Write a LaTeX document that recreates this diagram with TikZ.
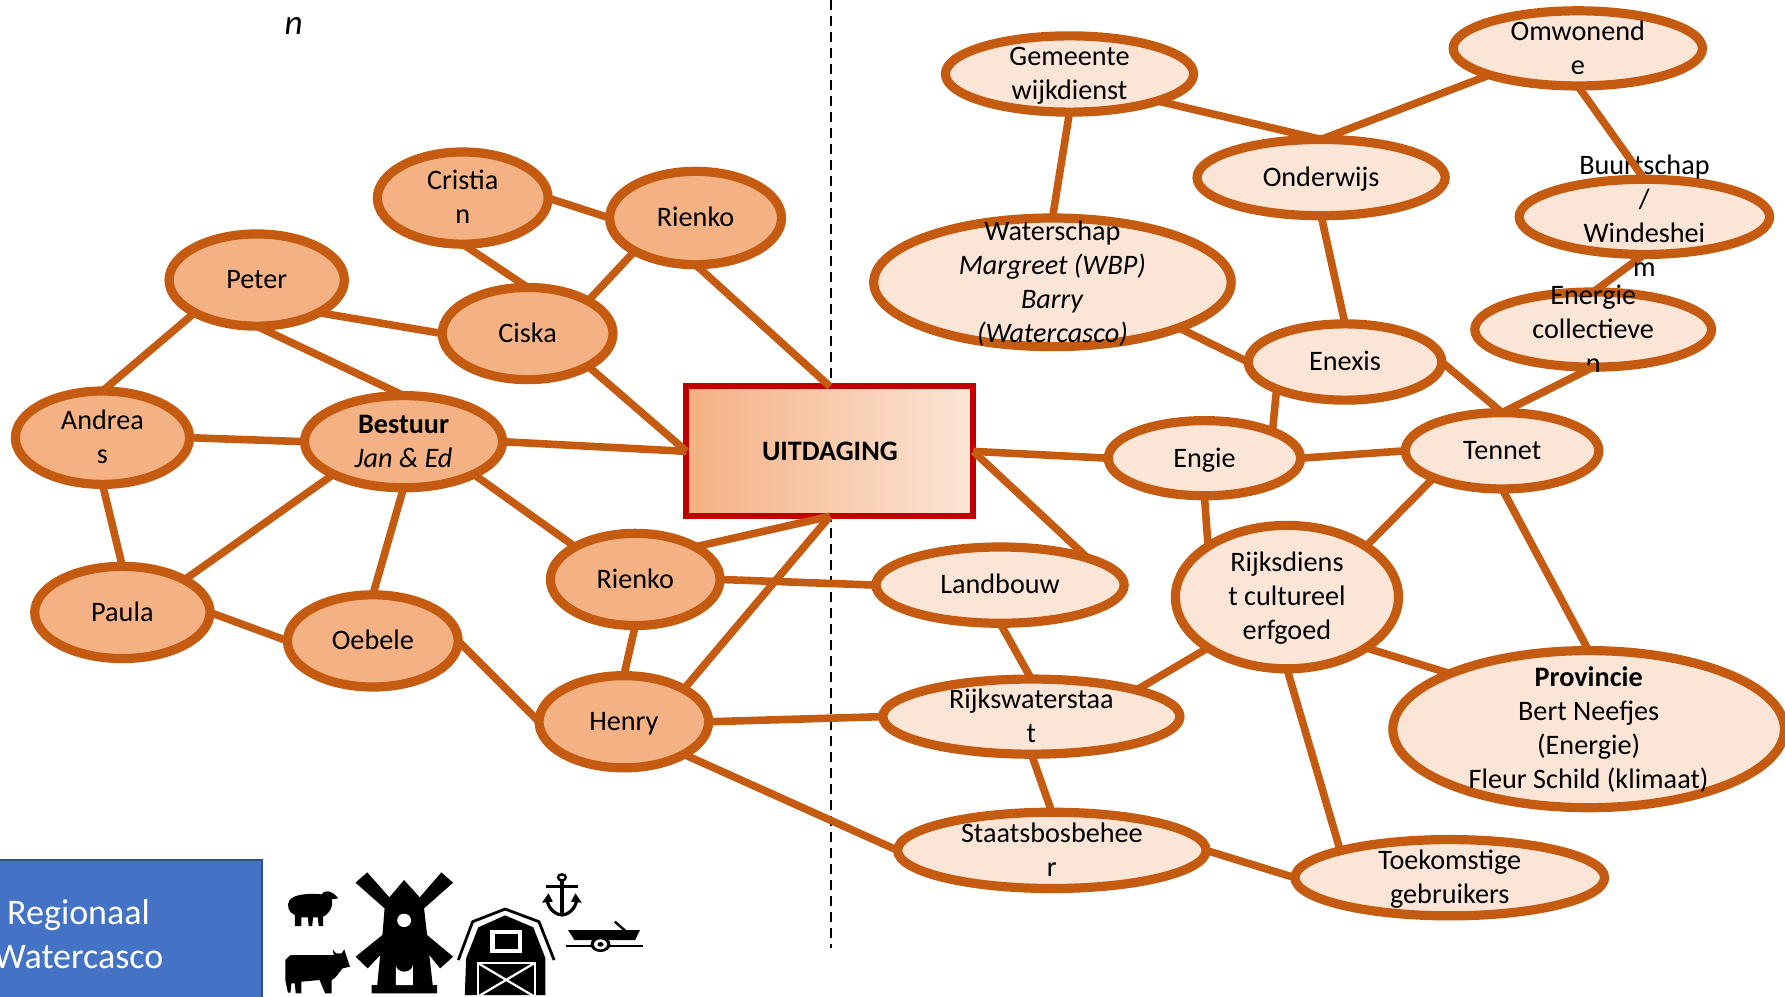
\documentclass[tikz,border=0pt]{standalone}
\usepackage{fontspec}
\setmainfont{Carlito}
\usetikzlibrary{shapes.geometric,backgrounds}
\definecolor{edgeC}{HTML}{C55A11}
\definecolor{darkF}{HTML}{F4B183}
\definecolor{lightF}{HTML}{FBE5D6}
\definecolor{boxC}{HTML}{C00000}
\definecolor{blueF}{HTML}{4472C4}
\definecolor{blueD}{HTML}{2F528F}
\newcommand{\ovtext}[1]{\makebox[0pt]{\raisebox{-9.2pt}{\smash{\begin{tabular}{@{}c@{}}#1\end{tabular}}}}}
\newcommand{\ov}[7]{\node[oval,fill=#1,minimum width=0.5692pt*(2*#5-5),minimum height=0.5692pt*(2*#6-5)] (#2) at (#3,#4) {\ovtext{#7}};}
\tikzset{
 oval/.style={ellipse,draw=edgeC,line width=4.6pt,inner sep=0pt,outer sep=0pt,font=\fontsize{14.1}{17}\selectfont},
 link/.style={draw=edgeC,line width=3.8pt},
 ink/.style={fill=black,draw=none},
}
\begin{document}
\begin{tikzpicture}[x=0.5692pt,y=-0.5692pt]
\useasboundingbox (0,0) rectangle (1568,875.8);
\clip (0,0) rectangle (1568,875.8);
\coordinate (dashtop) at (730,0);
\coordinate (dashend) at (730,833);
\draw[black,line width=0.6pt,dash pattern=on 5pt off 3pt] (dashtop) -- (dashend);
\node[font=\fontsize{17.6}{21}\selectfont\itshape] (nlabel) at (258,23) {n};
% task box
\node[draw=boxC,line width=3pt,left color=darkF,right color=lightF,minimum width=0.5692pt*252,minimum height=0.5692pt*114,inner sep=0pt,outer sep=0pt,font=\fontsize{14.1}{17}\selectfont\bfseries] (task) at (729,396.5) {UITDAGING};
% left ovals
\ov{darkF}{cristian}{406.5}{174}{77.5}{43}{Cristia\\n}
\ov{darkF}{rienkoA}{611}{191.5}{78}{43.5}{Rienko}
\ov{darkF}{peter}{225.5}{246}{79.5}{43}{Peter}
\ov{darkF}{ciska}{463.5}{293}{77.5}{43}{Ciska}
\ov{darkF}{andreas}{90}{384.5}{79}{43.5}{Andrea\\s}
\ov{darkF}{bestuur}{354.5}{388}{89.5}{43}{\textbf{Bestuur}\\\textit{Jan \& Ed}}
\ov{darkF}{paula}{107.5}{538}{79.5}{43}{Paula}
\ov{darkF}{oebele}{327.5}{563}{77.5}{43}{Oebele}
\ov{darkF}{rienkoB}{558}{509}{77}{43}{Rienko}
\ov{darkF}{henry}{548}{634}{77}{43}{Henry}
% right ovals
\ov{lightF}{landbouw}{878.5}{514}{111.5}{36}{Landbouw}
\ov{lightF}{rws}{906}{629.5}{133}{35.5}{Rijkswaterstaa\\t}
\ov{lightF}{sbb}{924}{747}{138}{36}{Staatsbosbehee\\r}
\ov{lightF}{toek}{1273.5}{771}{138.5}{36}{Toekomstige\\gebruikers}
\ov{lightF}{rijksd}{1130.5}{524.5}{100.5}{65.5}{Rijksdiens\\t cultureel\\erfgoed}
\ov{lightF}{prov}{1395.5}{640.5}{174.5}{71.5}{\textbf{Provincie}\\Bert Neefjes\\(Energie)\\Fleur Schild (klimaat)}
\ov{lightF}{tennet}{1319.5}{396}{87.5}{36}{Tennet}
\ov{lightF}{engie}{1058}{402.5}{87}{35.5}{Engie}
\ov{lightF}{enexis}{1181.5}{318}{87.5}{36}{Enexis}
\ov{lightF}{energie}{1399.5}{289.5}{106.5}{35.5}{Energie\\collectieve\\n}
\ov{lightF}{buurt}{1444.5}{190.5}{112.5}{35.5}{Buurtschap\\/\\Windeshei\\m}
\ov{lightF}{omw}{1386}{42.5}{112}{35.5}{Omwonend\\e}
\ov{lightF}{onder}{1160.5}{156}{111.5}{36}{Onderwijs}
\ov{lightF}{gem}{939.5}{65}{111.5}{36}{Gemeente\\wijkdienst}
\ov{lightF}{water}{924.5}{248}{159.5}{59}{Waterschap\\\textit{Margreet (WBP)}\\\textit{Barry}\\\textit{(Watercasco)}}
% connectors
\begin{pgfonlayer}{background}
\draw[link] (buurt.south) -- (energie.north);
\draw[link] (gem.south) -- (water.north);
\draw[link] (rws.south) -- (sbb.north);
\draw[link] (landbouw.south) -- (rws.north);
\end{pgfonlayer}
\draw[link] (cristian.east) -- (rienkoA.west);
\draw[link] (cristian.south) -- (ciska.north);
\draw[link] (rienkoA.south west) -- (ciska.north east);
\draw[link] (rienkoA.south) -- (task.north);
\draw[link] (peter.south east) -- (ciska.west);
\draw[link] (peter.south west) -- (andreas.north);
\draw[link] (peter.south) -- (bestuur.north);
\draw[link] (ciska.south east) -- (task.west);
\draw[link] (andreas.east) -- (bestuur.west);
\draw[link] (andreas.south) -- (paula.north);
\draw[link] (bestuur.south west) -- (paula.north east);
\draw[link] (bestuur.south) -- (oebele.north);
\draw[link] (bestuur.east) -- (task.west);
\draw[link] (bestuur.south east) -- (rienkoB.north west);
\draw[link] (paula.east) -- (oebele.west);
\draw[link] (oebele.east) -- (henry.west);
\draw[link] (rienkoB.north east) -- (task.south);
\draw[link] (rienkoB.east) -- (landbouw.west);
\draw[link] (rienkoB.south) -- (henry.north);
\draw[link] (henry.north east) -- (task.south);
\draw[link] (henry.east) -- (rws.west);
\draw[link] (henry.south east) -- (sbb.west);
\draw[link] (task.east) -- (engie.west);
\draw[link] (task.east) -- (landbouw.north east);
\draw[link] (rws.north east) -- (rijksd.south west);
\draw[link] (sbb.east) -- (toek.west);
\draw[link] (rijksd.south) -- (toek.north west);
\draw[link] (rijksd.south east) -- (prov.north west);
\draw[link] (engie.south) -- (rijksd.north west);
\draw[link] (rijksd.north east) -- (tennet.south west);
\draw[link] (tennet.south) -- (prov.north);
\draw[link] (tennet.west) -- (engie.east);
\draw[link] (tennet.north) -- (enexis.east);
\draw[link] (tennet.north) -- (energie.south);
\draw[link] (enexis.south west) -- (engie.north east);
\draw[link] (enexis.west) -- (water.south east);
\draw[link] (enexis.north) -- (onder.south);
\draw[link] (onder.north) -- (gem.south east);
\draw[link] (onder.north) -- (omw.south west);
\draw[link] (omw.south) -- (buurt.north);
% blue box
\fill[blueF] (-5,755) rectangle (231,880);
\draw[blueD,line width=1pt] (-5,755.5) -- (230.5,755.5) -- (230.5,880);
\node[text=white,font=\fontsize{18}{21.6}\selectfont,align=center] (regio) at (69,820.5) {Regionaal\\Watercasco};
% icons, drawn in crop coordinates
\begin{scope}[shift={(0,737.9)},x=0.2168pt,y=-0.16667pt]
% sheep
\fill[ink] (668,180) .. controls (680,160) and (720,160) .. (742,163) .. controls (745,150) and (765,148) .. (780,175) -- (765,178) .. controls (770,205) and (755,225) .. (745,230) -- (745,258) -- (735,258) -- (733,232) -- (722,232) -- (720,258) -- (712,258) -- (710,232) -- (695,232) -- (695,258) -- (680,258) -- (680,225) .. controls (665,218) and (660,195) .. (668,180) -- cycle;
% cow
\fill[ink] (670,345) -- (770,345) -- (767,328) -- (775,340) -- (788,340) -- (794,328) -- (798,345) -- (807,380) -- (790,385) .. controls (780,400) and (775,415) .. (765,420) -- (765,460) -- (750,460) -- (737,420) -- (695,425) -- (695,460) -- (682,460) -- (680,430) -- (672,430) -- (670,458) -- (664,458) -- (658,420) -- (658,360) -- cycle;
% windmill
\fill[ink] (820,128) -- (847,97) -- (898,172) -- (932,120) -- (968,172) -- (1018,97) -- (1045,128) -- (978,205) -- (985,285) -- (1045,350) -- (1015,385) -- (990,345) -- (998,435) -- (1008,435) -- (1008,460) -- (857,460) -- (857,435) -- (870,435) -- (877,345) -- (848,385) -- (820,350) -- (882,285) -- (887,205) -- cycle;
\fill[white] (932,241) ellipse [x radius=16,y radius=20];
\fill[white] (913,435) -- (913,375) arc[start angle=180,end angle=0,x radius=19.5,y radius=20] -- (952,435) -- cycle;
% barn
\draw[black,line width=1.4pt,line join=round] (1057,360) -- (1090,245) -- (1165,207) -- (1243,245) -- (1278,360);
\fill[ink] (1075,355) -- (1103,262) -- (1165,226) -- (1230,262) -- (1258,355) -- (1258,465) -- (1072,465) -- cycle;
\fill[white] (1130,270) rectangle (1205,340);
\fill[black] (1141,283) rectangle (1195,328);
\draw[white,line width=1.1pt] (1102,369) rectangle (1233,470);
\draw[white,line width=1.1pt] (1102,369) -- (1233,470) (1233,369) -- (1102,470);
% anchor
\draw[black,line width=1.2pt] (1296,112) circle [radius=9];
\draw[black,line width=1.6pt] (1260,140) -- (1332,140);
\draw[black,line width=1.8pt] (1296,120) -- (1296,225);
\draw[black,line width=1.6pt] (1262,180) .. controls (1265,210) and (1285,225) .. (1296,225) .. controls (1307,225) and (1327,210) .. (1330,180);
\fill[ink] (1250,188) -- (1265,160) -- (1275,185) -- cycle;
\fill[ink] (1342,188) -- (1327,160) -- (1317,185) -- cycle;
% boat trailer
\fill[ink] (1310,270) -- (1476,270) -- (1465,300) -- (1325,300) -- cycle;
\draw[black,line width=1.2pt] (1418,245) -- (1442,272);
\draw[black,line width=1.3pt] (1305,318) -- (1482,318);
\fill[black] (1385,313) circle [radius=23];
\fill[white] (1385,313) circle [radius=15];
\fill[black] (1385,313) circle [radius=7];
\end{scope}
\end{tikzpicture}
\end{document}
